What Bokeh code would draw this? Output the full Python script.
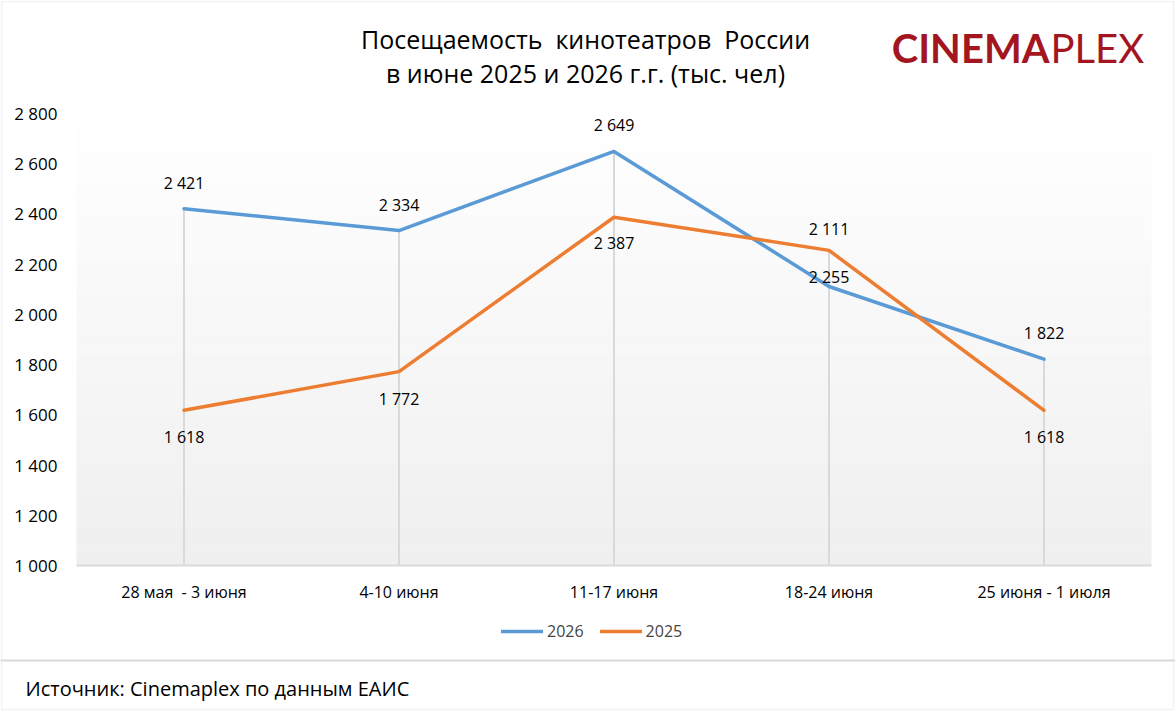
from bokeh.plotting import figure
from bokeh.models import (Range1d, FixedTicker, Label, Legend, LegendItem, LinearAxis,
                          BoxAnnotation, ColumnDataSource, Span)
from bokeh.embed import file_html
from bokeh.resources import INLINE
from bokeh.core.properties import value

# ---- data ----
weeks = ["28 мая\u00a0 - 3 июня", "4-10 июня", "11-17 июня", "18-24 июня", "25 июня - 1 июля"]
v2026 = [2421, 2334, 2649, 2111, 1822]
v2025 = [1618, 1772, 2387, 2255, 1618]
y_ticks = [1000, 1200, 1400, 1600, 1800, 2000, 2200, 2400, 2600, 2800]
series_names = ["2026", "2025"]
title_lines = ["Посещаемость\u00a0 кинотеатров\u00a0 России", "в июне 2025 и 2026 г.г. (тыс. чел)"]
source_text = "Источник: Cinemaplex по данным ЕАИС"

# ---- layout / style ----
W, H = 1175, 711
PL, PR, PT, PB = 76, 1151, 113, 565     # plot-area edges, canvas px
BLUE = "#5B9BD5"
ORANGE = "#ED7D31"
GRID = "#d9d9d9"
FONT = "Open Sans"
label_offsets_2026 = [-26, -26, -26, -58, -26]
label_offsets_2025 = [27, 27, 26, 27, 27]

n = len(weeks)
xs = list(range(n))
x_lo, x_hi = -0.5, n - 0.5
y_lo, y_hi = y_ticks[0], y_ticks[-1]
sx = (PR - PL) / (x_hi - x_lo)           # px per x unit
sy = (PB - PT) / (y_hi - y_lo)           # px per y unit


def fmt(v):
    return f"{v:,}".replace(",", " ")


p = figure(width=W, height=H,
           x_range=Range1d(x_lo - PL / sx, x_hi + (W - PR) / sx),
           y_range=Range1d(y_lo - (H - PB) / sy, y_hi + PT / sy),
           x_axis_type=None, y_axis_type=None,
           output_backend="svg", toolbar_location=None, min_border=0)
p.min_border_left = p.min_border_right = p.min_border_top = p.min_border_bottom = 0
p.background_fill_color = "white"
p.border_fill_color = "white"
p.outline_line_color = None

# gradient background of the plot area (white at top -> light gray at bottom)
N = 45
for i in range(N):
    t = (i + 0.5) / N
    c = int(round(239 + (255 - 239) * t))
    p.add_layout(BoxAnnotation(left=x_lo, right=x_hi,
                               bottom=y_lo + (y_hi - y_lo) * i / N,
                               top=y_lo + (y_hi - y_lo) * (i + 1) / N + 1,
                               fill_color=f"#{c:02x}{c:02x}{c:02x}", fill_alpha=1.0,
                               line_color=None, level="underlay"))

# axes fixed at the plot-area borders
yax = LinearAxis(fixed_location=x_lo, bounds=(y_lo, y_hi), ticker=FixedTicker(ticks=y_ticks))
yax.major_label_overrides = {t: fmt(t) for t in y_ticks}
yax.axis_line_color = None
yax.major_tick_line_color = None
yax.minor_tick_line_color = None
yax.major_tick_out = 0
yax.major_tick_in = 0
yax.major_label_standoff = 19
yax.major_label_text_font = FONT
yax.major_label_text_font_size = "17px"
yax.major_label_text_color = "#000000"
p.add_layout(yax, "left")

xax = LinearAxis(fixed_location=y_lo, bounds=(x_lo, x_hi), ticker=FixedTicker(ticks=xs))
xax.major_label_overrides = {i: w for i, w in zip(xs, weeks)}
xax.axis_line_color = GRID
xax.axis_line_width = 2
xax.major_tick_line_color = None
xax.minor_tick_line_color = None
xax.major_tick_out = 0
xax.major_tick_in = 0
xax.major_label_standoff = 15
xax.major_label_text_font = FONT
xax.major_label_text_font_size = "16px"
xax.major_label_text_color = "#000000"
p.add_layout(xax, "below")

src = ColumnDataSource(dict(
    x=xs, y0=[y_lo] * n, y1=[max(a, b) for a, b in zip(v2026, v2025)],
    v26=v2026, v25=v2025,
    t26=[fmt(v) for v in v2026], t25=[fmt(v) for v in v2025],
    o26=label_offsets_2026, o25=label_offsets_2025))

# drop lines
p.segment(x0="x", y0="y0", x1="x", y1="y1", source=src, line_color=GRID, line_width=2)

l26 = p.line("x", "v26", source=src, line_color=BLUE, line_width=3.5, line_join="round", line_cap="round")
l25 = p.line("x", "v25", source=src, line_color=ORANGE, line_width=3.5, line_join="round", line_cap="round")

p.text("x", "v26", text="t26", source=src, y_offset="o26", text_align="center", text_baseline="middle",
       text_font=value(FONT), text_font_size="16px", text_color="#000000")
p.text("x", "v25", text="t25", source=src, y_offset="o25", text_align="center", text_baseline="middle",
       text_font=value(FONT), text_font_size="16px", text_color="#000000")

# legend
legend = Legend(items=[LegendItem(label=series_names[0], renderers=[l26]),
                       LegendItem(label=series_names[1], renderers=[l25])],
                orientation="horizontal", location=(501, H - 642))
legend.padding = 0
legend.margin = 0
legend.spacing = 16
legend.glyph_width = 42
legend.glyph_height = 20
legend.label_standoff = 4
legend.label_text_font = FONT
legend.label_text_font_size = "16px"
legend.border_line_color = None
legend.background_fill_alpha = 0
p.add_layout(legend, "center")

# title (screen units: from bottom-left of canvas)
for txt, yy in zip(title_lines, [38, 72]):
    p.add_layout(Label(x=585, y=H - yy, x_units="screen", y_units="screen", text=txt,
                       text_align="center", text_baseline="middle", text_font=FONT,
                       text_font_size="25px", text_color="#000000"))

# logo
LOGO = "#A3161F"
p.add_layout(Label(x=1049, y=H - 47, x_units="screen", y_units="screen", text="CINEMA",
                   text_align="right", text_baseline="middle", text_font="Lato", text_font_style="bold",
                   text_font_size="40px", text_color=LOGO))
p.add_layout(Label(x=1050, y=H - 47, x_units="screen", y_units="screen", text="PLEX",
                   text_align="left", text_baseline="middle", text_font="Lato",
                   text_font_size="40px", text_color=LOGO))

# footer
p.add_layout(Span(location=H - 660, location_units="screen", dimension="width",
                  line_color=GRID, line_width=2))
p.add_layout(Label(x=25, y=H - 688, x_units="screen", y_units="screen", text=source_text,
                   text_align="left", text_baseline="middle", text_font=FONT,
                   text_font_size="20px", text_color="#000000"))

# outer border
p.add_layout(BoxAnnotation(left=1, right=W - 2, bottom=2, top=H - 1,
                           left_units="screen", right_units="screen",
                           bottom_units="screen", top_units="screen",
                           fill_alpha=0, line_color=GRID, line_width=2))

open("out.html", "w").write(file_html(p, INLINE))
